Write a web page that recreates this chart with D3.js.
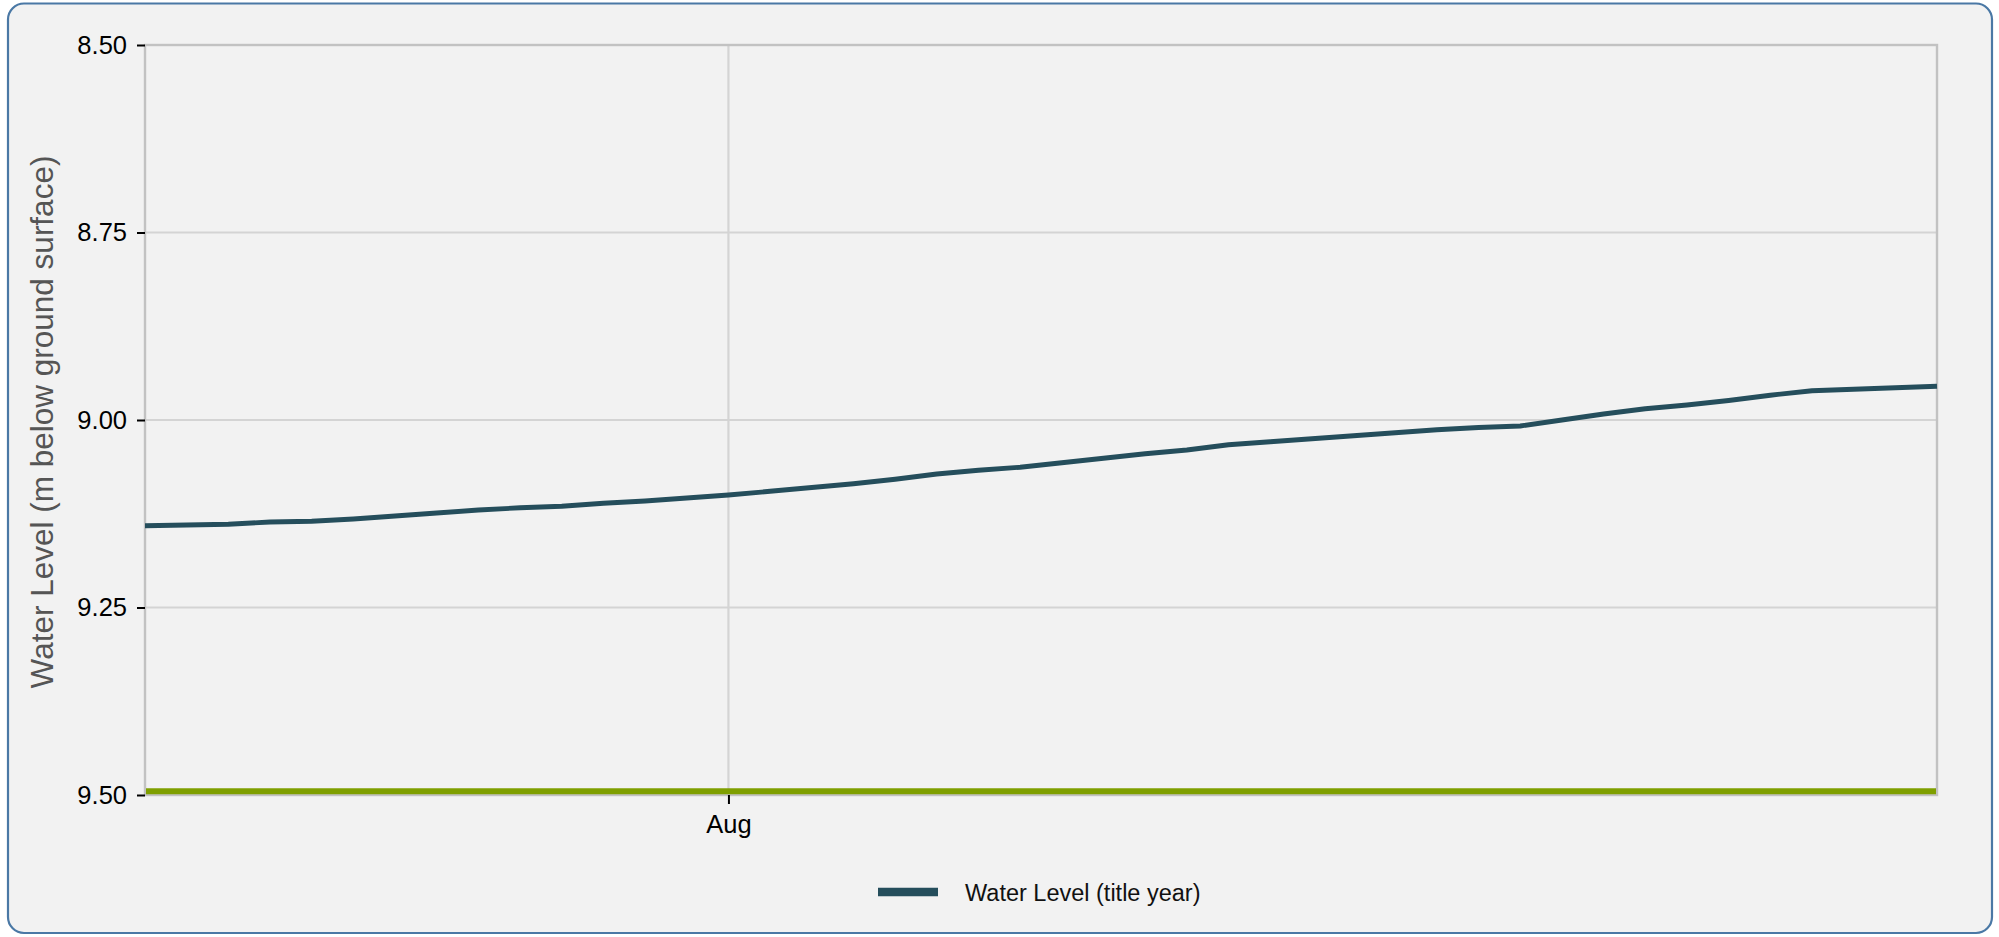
<!DOCTYPE html>
<html>
<head>
<meta charset="utf-8">
<script src="https://cdn.jsdelivr.net/npm/d3@7"></script>
<style>
  html, body { margin: 0; padding: 0; background: #ffffff; }
  svg { display: block; font-family: "Liberation Sans", Arial, Helvetica, sans-serif; }
</style>
</head>
<body>
<svg id="chart" width="1999" height="937"></svg>
<script>
// ---------------- data ----------------
const dates = [
  "2023-07-18","2023-07-19","2023-07-20","2023-07-21","2023-07-22","2023-07-23","2023-07-24",
  "2023-07-25","2023-07-26","2023-07-27","2023-07-28","2023-07-29","2023-07-30","2023-07-31",
  "2023-08-01","2023-08-02","2023-08-03","2023-08-04","2023-08-05","2023-08-06","2023-08-07",
  "2023-08-08","2023-08-09","2023-08-10","2023-08-11","2023-08-12","2023-08-13","2023-08-14",
  "2023-08-15","2023-08-16","2023-08-17","2023-08-18","2023-08-19","2023-08-20","2023-08-21",
  "2023-08-22","2023-08-23","2023-08-24","2023-08-25","2023-08-26","2023-08-27","2023-08-28",
  "2023-08-29","2023-08-30"
];
const waterLevel = [
  9.141, 9.140, 9.139, 9.136, 9.135, 9.132, 9.128,
  9.124, 9.120, 9.117, 9.115, 9.111, 9.108, 9.104,
  9.100, 9.095, 9.090, 9.085, 9.079, 9.072, 9.067,
  9.063, 9.057, 9.051, 9.045, 9.040, 9.033, 9.029,
  9.025, 9.021, 9.017, 9.013, 9.010, 9.008, 9.000,
  8.992, 8.985, 8.980, 8.974, 8.967, 8.961, 8.959,
  8.957, 8.955
];
const thresholdLevel = [9.495];
const yTicks = [8.50, 8.75, 9.00, 9.25, 9.50];
const xTicks = ["2023-08-01"];
const yDomain = [8.50, 9.50];
const seriesName = "Water Level (title year)";
const yTitle = "Water Level (m below ground surface)";

// ---------------- layout ----------------
const svg = d3.select("#chart");
const parse = d3.timeParse("%Y-%m-%d");
const plot = { left: 145, right: 1937, top: 45, bottom: 795 };
const font = "\"Liberation Sans\", Arial, Helvetica, sans-serif";

const points = dates.map((d, i) => ({ date: parse(d), value: waterLevel[i] }));

const x = d3.scaleTime()
  .domain([parse(dates[0]), parse(dates[dates.length - 1])])
  .range([plot.left, plot.right]);
const y = d3.scaleLinear()
  .domain(yDomain)
  .range([plot.top, plot.bottom]);

// outer frame
svg.append("rect")
  .attr("x", 8).attr("y", 3.5)
  .attr("width", 1984).attr("height", 929.5)
  .attr("rx", 16).attr("ry", 16)
  .attr("fill", "#f2f2f2")
  .attr("stroke", "#4a78a5")
  .attr("stroke-width", 2.2);

// gridlines
const grid = svg.append("g");
grid.selectAll("line.h")
  .data(yTicks.slice(1, -1))
  .join("line")
  .attr("x1", plot.left).attr("x2", plot.right)
  .attr("y1", d => y(d)).attr("y2", d => y(d))
  .attr("stroke", "#d4d4d4").attr("stroke-width", 2.2);
grid.selectAll("line.v")
  .data(xTicks.map(parse))
  .join("line")
  .attr("x1", d => x(d)).attr("x2", d => x(d))
  .attr("y1", plot.top).attr("y2", plot.bottom)
  .attr("stroke", "#d4d4d4").attr("stroke-width", 2.2);

// plot border
svg.append("rect")
  .attr("x", plot.left).attr("y", plot.top)
  .attr("width", plot.right - plot.left)
  .attr("height", plot.bottom - plot.top)
  .attr("fill", "none")
  .attr("stroke", "#c2c2c2")
  .attr("stroke-width", 2.4);

// y axis
const yAxis = svg.append("g")
  .attr("transform", `translate(${plot.left},0)`)
  .call(d3.axisLeft(y).tickValues(yTicks).tickFormat(d3.format(".2f")).tickSize(8).tickPadding(10));
yAxis.select(".domain").remove();
yAxis.selectAll(".tick line").attr("stroke", "#000").attr("stroke-width", 2);
yAxis.selectAll(".tick text")
  .attr("fill", "#000")
  .style("font-family", font)
  .style("font-size", "25.5px");

// x axis
const xAxis = svg.append("g")
  .attr("transform", `translate(0,${plot.bottom})`)
  .call(d3.axisBottom(x).tickValues(xTicks.map(parse)).tickFormat(d3.timeFormat("%b")).tickSize(9).tickPadding(11));
xAxis.select(".domain").remove();
xAxis.selectAll(".tick line").attr("stroke", "#000").attr("stroke-width", 2);
xAxis.selectAll(".tick text")
  .attr("fill", "#000")
  .style("font-family", font)
  .style("font-size", "25.5px");

// threshold line (green)
svg.selectAll("line.threshold")
  .data(thresholdLevel)
  .join("line")
  .attr("class", "threshold")
  .attr("x1", plot.left + 1).attr("x2", plot.right - 1)
  .attr("y1", d => y(d)).attr("y2", d => y(d))
  .attr("stroke", "#7f9f00")
  .attr("stroke-width", 6);

// water level line
const line = d3.line()
  .x(d => x(d.date))
  .y(d => y(d.value));
svg.append("path")
  .datum(points)
  .attr("d", line)
  .attr("fill", "none")
  .attr("stroke", "#254e5c")
  .attr("stroke-width", 4.8)
  .attr("stroke-linejoin", "round");

// y title
svg.append("text")
  .attr("transform", `translate(53,${(plot.top + plot.bottom) / 2 + 2}) rotate(-90)`)
  .attr("text-anchor", "middle")
  .attr("fill", "#555555")
  .style("font-family", font)
  .style("font-size", "31.5px")
  .text(yTitle);

// legend
const legend = svg.append("g");
legend.append("line")
  .attr("x1", 878).attr("x2", 938)
  .attr("y1", 892).attr("y2", 892)
  .attr("stroke", "#254e5c")
  .attr("stroke-width", 8.5);
legend.append("text")
  .attr("x", 965).attr("y", 901)
  .attr("fill", "#111")
  .style("font-family", font)
  .style("font-size", "23.5px")
  .text(seriesName);
</script>
</body>
</html>
